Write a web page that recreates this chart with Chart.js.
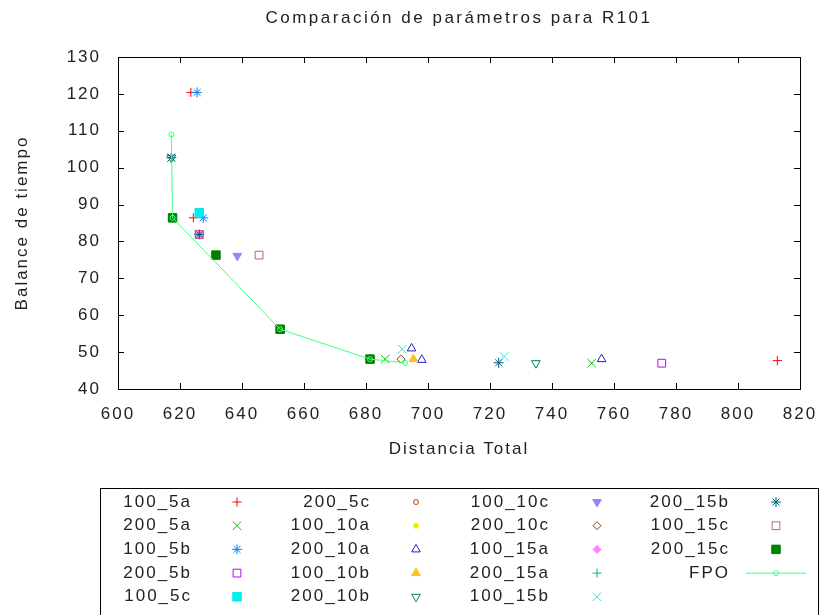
<!DOCTYPE html>
<html>
<head>
<meta charset="utf-8">
<script src="https://cdn.jsdelivr.net/npm/chart.js@4.4.1/dist/chart.umd.min.js"></script>
<style>
    body { margin: 0; background: #fff; }
    #caja { width: 820px; height: 615px; }
</style>
</head>
<body>
<div id="caja"><canvas id="graficaR101" width="820" height="615"></canvas></div>
<script>
// === Datos ===
const titulo = 'Comparación de parámetros para R101';

const etiquetas = ['100_5a', '200_5a', '100_5b', '200_5b', '100_5c',
                   '200_5c', '100_10a', '200_10a', '100_10b', '200_10b',
                   '100_10c', '200_10c', '100_15a', '200_15a', '100_15b',
                   '200_15b', '100_15c', '200_15c'];

// distancia total (x) de cada configuración
const distancia = [
    [623.5, 624.3, 812.7],
    [617.2, 686.2, 752.8],
    [625.5, 627.5],
    [626.2, 775.4],
    [626.2],
    [617.6, 626.2, 631.6, 652.3, 681.3],
    [617.6, 626.2, 631.6, 652.3],
    [694.7, 698.0, 756.0],
    [695.3],
    [617.2, 734.8],
    [638.5],
    [691.3],
    [626.2, 652.3],
    [617.6, 626.2, 681.3],
    [691.7, 724.6],
    [617.2, 626.2, 681.3, 722.8],
    [626.2, 645.5, 652.3],
    [617.6, 631.6, 652.3, 681.3]
];

// balance de tiempo (y) de cada configuración
const balance = [
    [120.4, 86.4, 47.7],
    [102.7, 48.1, 47.0],
    [120.4, 86.4],
    [81.9, 47.0],
    [87.8],
    [86.4, 81.9, 76.3, 56.2, 48.1],
    [86.4, 81.9, 76.3, 56.2],
    [51.0, 47.9, 48.1],
    [48.1],
    [102.7, 47.0],
    [76.1],
    [48.1],
    [81.9, 56.2],
    [86.4, 81.9, 48.1],
    [50.8, 48.8],
    [102.7, 81.9, 48.1, 47.1],
    [81.9, 76.3, 56.2],
    [86.4, 76.3, 56.2, 48.1]
];

const fpoDistancia = [617.2, 617.6, 652.3, 681.3, 692.6];
const fpoBalance = [109.0, 86.4, 56.2, 48.1, 47.1];

const ticksX = [600, 620, 640, 660, 680, 700, 720, 740, 760, 780, 800, 820];
const ticksY = [40, 50, 60, 70, 80, 90, 100, 110, 120, 130];

// === Estilos (tipo de punto de gnuplot) ===
const estilos = [
    { color: '#ff0000', forma: 'cross',    r: 4.5, lleno: false },
    { color: '#00c000', forma: 'crossRot', r: 6,   lleno: false },
    { color: '#0080ff', forma: 'star',     r: 5,   lleno: false },
    { color: '#c000ff', forma: 'rect',     r: 5.5, lleno: false },
    { color: '#00eeee', forma: 'rect',     r: 6,   lleno: true },
    { color: '#c04000', forma: 'circle',   r: 2.5, lleno: false },
    { color: '#eeee00', forma: 'circle',   r: 2.5, lleno: true },
    { color: '#2020c0', forma: 'triangle', r: 5,   lleno: false },
    { color: '#ffc020', forma: 'triangle', r: 5,   lleno: true },
    { color: '#008040', forma: 'triangle', r: 5,   lleno: false, giro: 180 },
    { color: '#a080ff', forma: 'triangle', r: 5,   lleno: true,  giro: 180 },
    { color: '#804000', forma: 'rectRot',  r: 4,   lleno: false },
    { color: '#ff80ff', forma: 'rectRot',  r: 4,   lleno: true },
    { color: '#00c060', forma: 'cross',    r: 4.5, lleno: false },
    { color: '#40d8d8', forma: 'crossRot', r: 6,   lleno: false },
    { color: '#006080', forma: 'star',     r: 5,   lleno: false },
    { color: '#c06080', forma: 'rect',     r: 5.5, lleno: false },
    { color: '#008000', forma: 'rect',     r: 6,   lleno: true }
];
const colorFPO = '#40ff80';

const fuente = { family: "'Liberation Sans', Arial, sans-serif", size: 17 };
const colorTexto = '#222';

const datasets = etiquetas.map((nombre, i) => ({
    label: nombre,
    data: distancia[i].map((x, j) => ({ x: x, y: balance[i][j] })),
    pointStyle: estilos[i].forma,
    pointRadius: estilos[i].r,
    pointRotation: estilos[i].giro || 0,
    borderColor: estilos[i].color,
    backgroundColor: estilos[i].lleno ? estilos[i].color : 'rgba(0,0,0,0)',
    borderWidth: 1,
    order: 100 - i
}));

datasets.push({
    label: 'FPO',
    data: fpoDistancia.map((x, j) => ({ x: x, y: fpoBalance[j] })),
    showLine: true,
    pointStyle: 'circle',
    pointRadius: 2.5,
    borderColor: colorFPO,
    backgroundColor: 'rgba(0,0,0,0)',
    borderWidth: 1,
    order: 0
});

// === Marco, título y marcas hacia dentro (estilo gnuplot) ===
const marco = {
    id: 'marco',
    beforeDraw(chart) {
        chart.ctx.letterSpacing = '2px';
    },
    afterDatasetsDraw(chart) {
        const { ctx, chartArea: a, scales } = chart;
        ctx.save();
        ctx.strokeStyle = '#000';
        ctx.lineWidth = 1;
        ctx.strokeRect(a.left + 0.5, a.top + 0.5, a.right - a.left, a.bottom - a.top);
        ctx.beginPath();
        ticksX.slice(1, -1).forEach(v => {
            const px = Math.round(scales.x.getPixelForValue(v)) + 0.5;
            ctx.moveTo(px, a.bottom); ctx.lineTo(px, a.bottom - 6);
            ctx.moveTo(px, a.top); ctx.lineTo(px, a.top + 6);
        });
        ticksY.slice(1, -1).forEach(v => {
            const py = Math.round(scales.y.getPixelForValue(v)) + 0.5;
            ctx.moveTo(a.left, py); ctx.lineTo(a.left + 6, py);
            ctx.moveTo(a.right, py); ctx.lineTo(a.right - 6, py);
        });
        ctx.stroke();

        // título centrado sobre el área de la gráfica
        ctx.letterSpacing = '2.5px';
        ctx.font = fuente.size + 'px ' + fuente.family;
        ctx.fillStyle = colorTexto;
        ctx.textAlign = 'center';
        ctx.textBaseline = 'middle';
        ctx.fillText(titulo, (a.left + a.right) / 2, 18);
        ctx.restore();
    }
};

// === Leyenda en cuadro (columnas) ===
const leyenda = {
    id: 'leyendaCaja',
    afterDraw(chart) {
        const ctx = chart.ctx;
        ctx.save();
        ctx.letterSpacing = '2px';
        ctx.strokeStyle = '#000';
        ctx.lineWidth = 1;
        ctx.strokeRect(100.5, 488.5, 718, 140);
        const textoX = [190, 369, 548, 728];
        const marcaX = [237, 416, 597, 776];
        ctx.font = fuente.size + 'px ' + fuente.family;
        ctx.textAlign = 'right';
        ctx.textBaseline = 'middle';
        chart.data.datasets.forEach((ds, i) => {
            const col = Math.floor(i / 5), fila = i % 5;
            const y = 502 + fila * 23.7;
            ctx.fillStyle = colorTexto;
            ctx.fillText(ds.label, textoX[col] + 2, y);
            ctx.strokeStyle = ds.borderColor;
            ctx.fillStyle = ds.backgroundColor;
            if (ds.showLine) {
                ctx.beginPath();
                ctx.moveTo(marcaX[col] - 30, y);
                ctx.lineTo(marcaX[col] + 30, y);
                ctx.stroke();
            }
            Chart.helpers.drawPoint(ctx, {
                pointStyle: ds.pointStyle,
                radius: ds.pointRadius,
                rotation: ds.pointRotation || 0,
                borderWidth: 1
            }, marcaX[col], y);
        });
        ctx.restore();
    }
};

const ctxR101 = document.getElementById('graficaR101').getContext('2d');

new Chart(ctxR101, {
    type: 'scatter',
    data: { datasets: datasets },
    options: {
        responsive: false,
        animation: false,
        layout: { padding: { top: 57, right: 20 } },
        plugins: {
            legend: { display: false },
            tooltip: { enabled: false },
            title: { display: false }
        },
        scales: {
            x: {
                type: 'linear',
                min: 600,
                max: 820,
                afterBuildTicks: s => { s.ticks = ticksX.map(v => ({ value: v })); },
                afterFit: s => { s.height = 226; s.paddingLeft = 0; s.paddingRight = 0; },
                grid: { display: false, drawTicks: false },
                border: { display: false },
                ticks: { color: colorTexto, font: fuente, padding: 15, maxRotation: 0, autoSkip: false },
                title: {
                    display: true,
                    text: 'Distancia Total',
                    color: colorTexto,
                    font: fuente,
                    padding: { top: 0, bottom: 155 }
                }
            },
            y: {
                type: 'linear',
                min: 40,
                max: 130,
                afterBuildTicks: s => { s.ticks = ticksY.map(v => ({ value: v })); },
                afterFit: s => { s.width = 118; s.paddingTop = 0; s.paddingBottom = 0; },
                grid: { display: false, drawTicks: false },
                border: { display: false },
                ticks: { color: colorTexto, font: fuente, padding: 17, autoSkip: false },
                title: {
                    display: true,
                    text: 'Balance de tiempo',
                    color: colorTexto,
                    font: fuente,
                    padding: { top: 12, bottom: 0 }
                }
            }
        }
    },
    plugins: [marco, leyenda]
});
</script>
</body>
</html>
